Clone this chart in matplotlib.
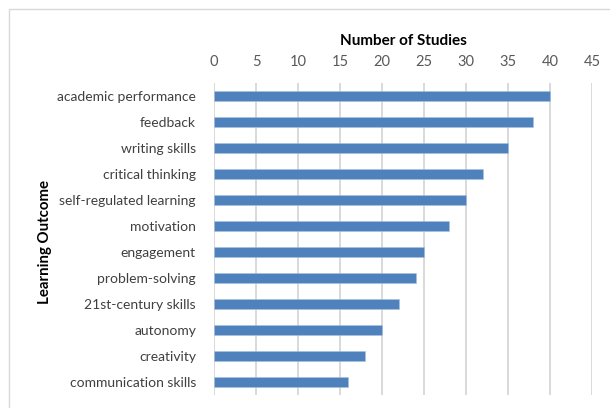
import matplotlib
matplotlib.use("Agg")
import matplotlib.pyplot as plt
from matplotlib.patches import Rectangle

outcomes = [
    "academic performance", "feedback", "writing skills", "critical thinking",
    "self-regulated learning", "motivation", "engagement", "problem-solving",
    "21st-century skills", "autonomy", "creativity", "communication skills",
]
studies = [40, 38, 35, 32, 30, 28, 25, 24, 22, 20, 18, 16]
x_ticks = [0, 5, 10, 15, 20, 25, 30, 35, 40, 45]

plt.rcParams["font.family"] = ["Lato", "DejaVu Sans"]

fig = plt.figure(figsize=(6.10, 4.08), dpi=100)
fig.patch.set_facecolor("white")

# light frame around the chart area
fig.add_artist(Rectangle((9 / 610, -0.05), 1.0, 1 - 9 / 408 + 0.05,
                         transform=fig.transFigure, fill=False,
                         edgecolor="#d9d9d9", linewidth=1.0))

ax = fig.add_axes([214 / 610, 1 - 395 / 408, (592 - 214) / 610, (395 - 83) / 408])

ypos = list(range(len(outcomes)))
ax.barh(ypos, studies, height=0.36, color="#4f81bd", edgecolor="#a9c1e0",
        linewidth=0.4, zorder=3)

ax.set_ylim(len(outcomes) - 0.5, -0.5)
ax.set_xlim(0, 45)
ax.set_xticks(x_ticks)
ax.xaxis.tick_top()
ax.xaxis.set_label_position("top")
ax.tick_params(axis="x", length=0, pad=10, labelsize=10.5, labelcolor="#595959")
ax.tick_params(axis="y", length=0, pad=13, labelsize=10, labelcolor="#404040")
ax.set_yticks(ypos)
ax.set_yticklabels(outcomes)

ax.grid(axis="x", color="#d9d9d9", linewidth=1.4, zorder=0)
for s in ax.spines.values():
    s.set_visible(False)

ax.set_xlabel("Number of Studies", fontsize=11, fontweight="bold",
              color="black", labelpad=7)
fig.text(45 / 610, 1 - 242 / 408, "Learning Outcome", rotation=90,
         fontsize=10.8, fontweight="bold", ha="center", va="center")

fig.savefig("out.png", dpi=100)
